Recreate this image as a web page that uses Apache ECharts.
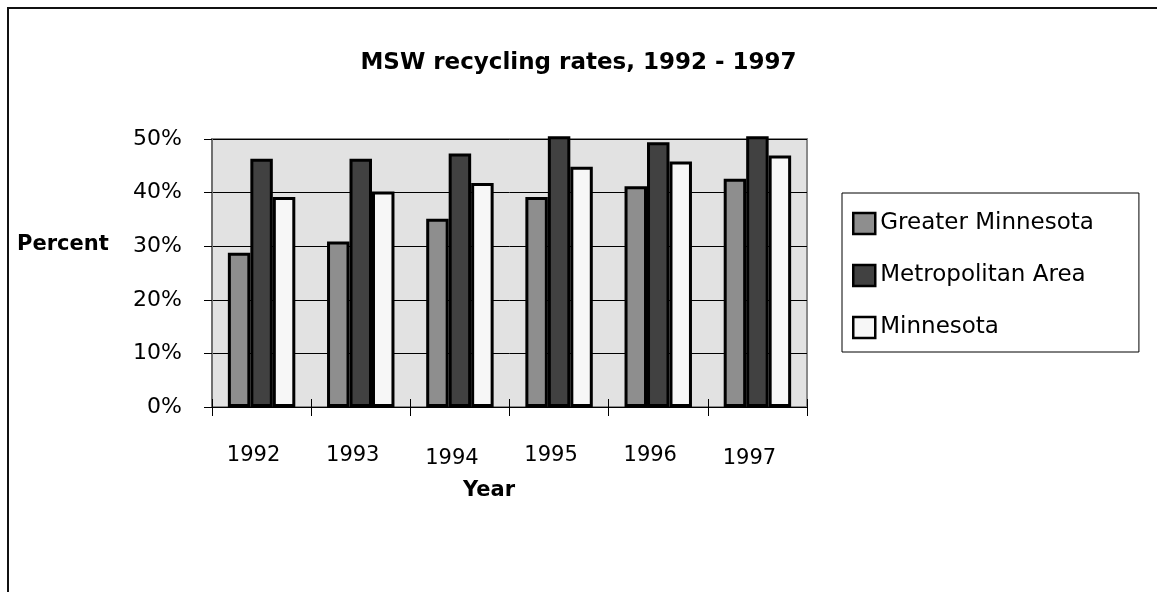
<!DOCTYPE html>
<html>
<head>
<meta charset="utf-8">
<script src="https://cdn.jsdelivr.net/npm/echarts@6/dist/echarts.min.js"></script>
<style>
html,body{margin:0;padding:0;background:#fff;}
#chart{width:1157px;height:592px;}
</style>
</head>
<body>
<div id="chart"></div>
<script>
const years = ['1992', '1993', '1994', '1995', '1996', '1997'];
const greaterMinnesota = [28.8, 30.9, 35.1, 39.2, 41.2, 42.6];
const metropolitanArea = [46.3, 46.3, 47.3, 50.5, 49.4, 50.5];
const minnesota = [39.2, 40.2, 41.8, 44.8, 45.8, 46.9];
const seriesNames = ['Greater Minnesota', 'Metropolitan Area', 'Minnesota'];
const yTicks = { min: 0, max: 50, interval: 10 };

const FONT = '"DejaVu Sans", sans-serif';
const colors = ['#8e8e8e', '#414141', '#f7f7f7'];
// small vertical drop of some year labels, as in the original layout (style only)
const labelDrop = [0, 0, 3, 0, 0, 3];

function barSeries(name, data, color) {
  return {
    name: name,
    type: 'bar',
    data: data,
    clip: false,
    barGap: '0%',
    barCategoryGap: '32%',
    itemStyle: { color: color, borderColor: '#000', borderWidth: 3 }
  };
}

const xData = years.map(function (y, i) {
  return { value: y, textStyle: { padding: [labelDrop[i], 16, 0, 0] } };
});

const chart = echarts.init(document.getElementById('chart'), null, { renderer: 'canvas' });
chart.setOption({
  animation: false,
  backgroundColor: '#fff',
  title: {
    text: 'MSW recycling rates, 1992 - 1997',
    left: 'center',
    top: 52,
    padding: 0,
    textStyle: { fontFamily: FONT, fontWeight: 'bold', fontSize: 23, color: '#000' }
  },
  grid: {
    left: 212, right: 350, top: 139, bottom: 185,
    show: true, backgroundColor: '#e2e2e2', borderColor: '#8a8a8a', borderWidth: 2
  },
  legend: {
    orient: 'vertical',
    left: 842, top: 193,
    data: seriesNames,
    backgroundColor: '#fff',
    borderColor: '#000', borderWidth: 1, borderRadius: 0,
    padding: [14, 45, 8, 10],
    itemGap: 19,
    itemWidth: 22, itemHeight: 21,
    icon: 'rect',
    itemStyle: { borderColor: '#000', borderWidth: 2.5 },
    textStyle: { fontFamily: FONT, fontSize: 23, color: '#000', lineHeight: 23, padding: [0, 0, 10, 0] }
  },
  xAxis: [{
    type: 'category',
    data: xData,
    axisLine: { show: true, lineStyle: { color: '#000', width: 1 } },
    axisTick: { show: true, length: 9, lineStyle: { color: '#000' } },
    axisLabel: { fontFamily: FONT, fontSize: 21, color: '#000', margin: 38 },
    splitLine: { show: false }
  }, {
    type: 'category',
    data: years,
    position: 'bottom',
    axisLine: { show: false },
    axisTick: { show: true, inside: true, length: 8, lineStyle: { color: '#000' } },
    axisLabel: { show: false },
    splitLine: { show: false }
  }],
  yAxis: {
    type: 'value',
    min: yTicks.min, max: yTicks.max, interval: yTicks.interval,
    axisLine: { show: true, lineStyle: { color: '#707070', width: 2 } },
    axisTick: { show: true, length: 8, lineStyle: { color: '#000' } },
    axisLabel: { fontFamily: FONT, fontSize: 22, color: '#000', margin: 30, formatter: '{value}%', padding: [0, 0, 8, 0] },
    splitLine: { show: true, lineStyle: { color: '#000', width: 1 } }
  },
  series: [
    barSeries(seriesNames[0], greaterMinnesota, colors[0]),
    barSeries(seriesNames[1], metropolitanArea, colors[1]),
    barSeries(seriesNames[2], minnesota, colors[2])
  ],
  graphic: [
    { type: 'text', left: 17, top: 234, style: { text: 'Percent', fontFamily: FONT, fontWeight: 'bold', fontSize: 21, fill: '#000' } },
    { type: 'text', left: 463, top: 480, style: { text: 'Year', fontFamily: FONT, fontWeight: 'bold', fontSize: 21, fill: '#000' } },
    { type: 'line', shape: { x1: 8, y1: 7, x2: 8, y2: 600 }, style: { stroke: '#111', lineWidth: 2 } },
    { type: 'line', shape: { x1: 7, y1: 8, x2: 1160, y2: 8 }, style: { stroke: '#111', lineWidth: 2 } }
  ]
});
</script>
</body>
</html>
